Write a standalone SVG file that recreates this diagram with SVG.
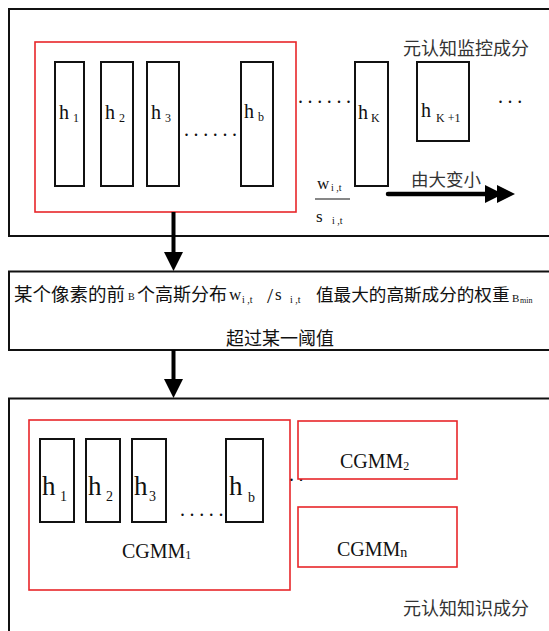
<svg xmlns="http://www.w3.org/2000/svg" width="549" height="631" viewBox="0 0 549 631">
  <style>
    .frame { fill: #fff; stroke: #111; stroke-width: 2; }
    .red { fill: #fff; stroke: #e8262a; stroke-width: 1.6; }
    .bar { fill: #fff; stroke: #111; stroke-width: 2; }
    .ser { font-family: "Liberation Serif", "Times New Roman", serif; fill: #111; }
    .cjk { font-family: "Noto Sans CJK SC", "Noto Sans", sans-serif; fill: #111; }
    .gray { fill: #333; }
    .h1 { font-size: 20px; }
    .s1 { font-size: 12px; }
    .h2 { font-size: 27px; }
    .s2 { font-size: 14px; }
    .dots { font-size: 20px; letter-spacing: 4.6px; }
    .shaft { stroke: #000; stroke-width: 4; fill: none; }
    .head { fill: #000; stroke: none; }
  </style>

  <!-- Monitoring component panel -->
  <g id="monitor-panel">
    <rect class="frame" x="9" y="9" width="560" height="227"/>
    <text class="cjk gray" x="403" y="55" font-size="18">元认知监控成分</text>
  </g>

  <g id="monitor-group">
    <rect class="red" x="35" y="42" width="261" height="170"/>
  </g>

  <g id="bar-h1">
    <rect class="bar" x="55" y="62" width="29" height="124"/>
    <text class="ser h1" x="59" y="119">h</text>
    <text class="ser s1" x="73" y="122">1</text>
  </g>
  <g id="bar-h2">
    <rect class="bar" x="101" y="62" width="32" height="124"/>
    <text class="ser h1" x="105" y="119">h</text>
    <text class="ser s1" x="119" y="122">2</text>
  </g>
  <g id="bar-h3">
    <rect class="bar" x="147" y="62" width="32" height="124"/>
    <text class="ser h1" x="151" y="119">h</text>
    <text class="ser s1" x="165" y="122">3</text>
  </g>
  <g id="dots-top-1">
    <text class="ser dots" x="184" y="136">......</text>
  </g>
  <g id="bar-hb">
    <rect class="bar" x="241" y="62" width="32" height="124"/>
    <text class="ser h1" x="244" y="118">h</text>
    <text class="ser s1" x="258" y="121">b</text>
  </g>
  <g id="dots-top-2">
    <text class="ser dots" x="298" y="103">......</text>
  </g>
  <g id="bar-hK">
    <rect class="bar" x="355" y="62" width="33" height="124"/>
    <text class="ser h1" x="358" y="119">h</text>
    <text class="ser s1" x="371" y="122">K</text>
  </g>
  <g id="bar-hK1">
    <rect class="bar" x="417" y="62" width="52" height="79"/>
    <text class="ser h1" x="421" y="117">h</text>
    <text class="ser s1" x="436" y="122">K +1</text>
  </g>
  <g id="dots-top-3">
    <text class="ser dots" x="498" y="103" letter-spacing="6">...</text>
  </g>

  <!-- ratio w/s and ordering arrow -->
  <g id="ratio">
    <text class="ser" x="317" y="189" font-size="17">w</text>
    <text class="ser" x="331" y="191" font-size="10">i ,t</text>
    <line x1="315" y1="199" x2="350" y2="199" stroke="#111" stroke-width="1.2"/>
    <text class="ser" x="316" y="222" font-size="17">s</text>
    <text class="ser" x="332" y="224" font-size="10">i ,t</text>
  </g>
  <g id="order-arrow">
    <text class="cjk gray" x="411" y="186" font-size="17.5">由大变小</text>
    <line x1="388" y1="194" x2="490" y2="194" stroke="#000" stroke-width="4.5" stroke-linecap="round"/>
    <polygon class="head" points="485,185 503,194 485,203"/>
    <polygon class="head" points="497,185 515,194 497,203"/>
  </g>

  <!-- Selection criterion -->
  <g id="criterion">
    <rect class="frame" x="9" y="271.5" width="560" height="78.5"/>
    <text class="cjk" x="14" y="301" font-size="18.5">某个像素的前</text>
    <text class="ser" x="128" y="300" font-size="10">B</text>
    <text class="cjk" x="137" y="301" font-size="18">个高斯分布</text>
    <text class="ser" x="229" y="300" font-size="17">w</text>
    <text class="ser" x="242" y="303" font-size="10">i ,t</text>
    <text class="ser" x="267" y="303" font-size="22">/</text>
    <text class="ser" x="275" y="300" font-size="17">s</text>
    <text class="ser" x="290" y="303" font-size="10">i ,t</text>
    <text class="cjk" x="316" y="301" font-size="17.6">值最大的高斯成分的权重</text>
    <text class="ser" x="512" y="302" font-size="11">B</text>
    <text class="ser" x="520" y="303" font-size="8">min</text>
    <text class="cjk" x="226" y="345" font-size="18">超过某一阈值</text>
  </g>

  <!-- Knowledge component panel -->
  <g id="knowledge-panel">
    <rect class="frame" x="9" y="398.5" width="560" height="260"/>
    <text class="cjk gray" x="403" y="615" font-size="18">元认知知识成分</text>
  </g>

  <g id="cgmm1">
    <rect class="red" x="29" y="420" width="261" height="170"/>
    <text class="ser" x="122" y="558" font-size="20">CGMM<tspan font-size="12" dy="1">1</tspan></text>
  </g>
  <g id="cgmm1-h1">
    <rect class="bar" x="40" y="439" width="34" height="83"/>
    <text class="ser h2" x="42" y="495">h</text>
    <text class="ser s2" x="60" y="501">1</text>
  </g>
  <g id="cgmm1-h2">
    <rect class="bar" x="86" y="439" width="34" height="83"/>
    <text class="ser h2" x="88" y="495">h</text>
    <text class="ser s2" x="106" y="501">2</text>
  </g>
  <g id="cgmm1-h3">
    <rect class="bar" x="132" y="439" width="34" height="83"/>
    <text class="ser h2" x="134" y="495">h</text>
    <text class="ser s2" x="149" y="501">3</text>
  </g>
  <g id="dots-bottom-1">
    <text class="ser dots" x="180" y="516" letter-spacing="3.4">.....</text>
  </g>
  <g id="cgmm1-hb">
    <rect class="bar" x="226" y="439" width="37" height="83"/>
    <text class="ser h2" x="229" y="495">h</text>
    <text class="ser s2" x="248" y="502">b</text>
  </g>
  <g id="dots-bottom-2">
    <text class="ser dots" x="289" y="481" letter-spacing="1.8">..</text>
  </g>
  <g id="cgmm2">
    <rect class="red" x="298" y="421" width="159" height="58"/>
    <text class="ser" x="340" y="468" font-size="20">CGMM<tspan font-size="12" dy="2">2</tspan></text>
  </g>
  <g id="cgmmn">
    <rect class="red" x="298" y="507" width="159" height="60"/>
    <text class="ser" x="337" y="556" font-size="20">CGMM<tspan font-size="14" dy="1">n</tspan></text>
  </g>

  <!-- Flow connectors -->
  <g id="connectors">
    <line class="shaft" x1="173.5" y1="212" x2="173.5" y2="254"/>
    <polygon class="head" points="164,252 183,252 173.5,271"/>
    <line class="shaft" x1="173.5" y1="350" x2="173.5" y2="381"/>
    <polygon class="head" points="164,379 183,379 173.5,398"/>
  </g>
</svg>
